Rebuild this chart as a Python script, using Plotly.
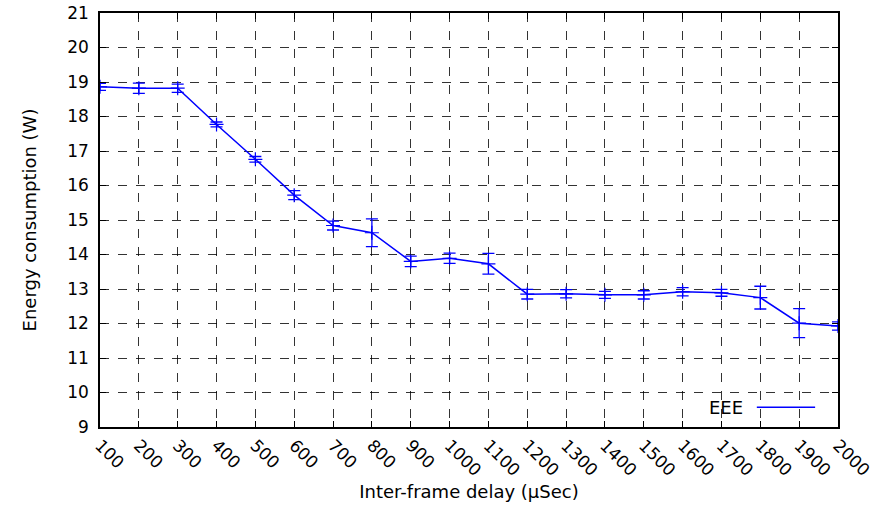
import plotly.graph_objects as go

delay = [100, 200, 300, 400, 500, 600, 700, 800, 900, 1000, 1100, 1200, 1300, 1400, 1500, 1600, 1700, 1800, 1900, 2000]
energy = [18.86, 18.82, 18.82, 17.77, 16.76, 15.72, 14.84, 14.63, 13.80, 13.89, 13.73, 12.85, 12.86, 12.83, 12.83, 12.92, 12.89, 12.75, 12.01, 11.93]
err = [0.10, 0.15, 0.12, 0.07, 0.08, 0.13, 0.13, 0.40, 0.15, 0.15, 0.30, 0.14, 0.12, 0.10, 0.12, 0.12, 0.10, 0.33, 0.42, 0.12]
xticks = list(range(100, 2001, 100))
yticks = list(range(9, 22))

FONT = "DejaVu Sans"

fig = go.Figure()
fig.add_trace(go.Scatter(
    x=delay, y=energy, mode="lines+markers", name="EEE",
    line=dict(color="#0000ff", width=1.5),
    marker=dict(symbol="cross-thin", size=10, line=dict(color="#0000ff", width=1.2)),
    error_y=dict(type="data", array=err, visible=True, color="#0000ff", thickness=1.3, width=6),
    showlegend=False,
))

axis_common = dict(
    showline=True, linecolor="black", linewidth=1.5, mirror="ticks",
    ticks="inside", ticklen=6, tickcolor="black",
    showgrid=True, gridcolor="rgba(0,0,0,0.8)", griddash="dash", gridwidth=1,
    zeroline=False, tickfont=dict(family=FONT, size=17, color="black"),
    automargin=False, ticklabeloverflow="allow",
)

fig.update_xaxes(range=[100, 2000], tickvals=xticks, ticktext=[str(v) for v in xticks],
                 tickangle=45, title=dict(text="Inter-frame delay (µSec)", font=dict(family=FONT, size=18, color="black"), standoff=6),
                 **axis_common)
fig.update_yaxes(range=[9, 21], tickvals=yticks, ticktext=[str(v) for v in yticks],
                 ticklabelstandoff=6,
                 title=dict(text="Energy consumption (W)", font=dict(family=FONT, size=18, color="black"), standoff=26),
                 **axis_common)

fig.add_annotation(x=0.874, y=0.048, xref="paper", yref="paper", text="EEE", showarrow=False,
                   xanchor="right", yanchor="middle", font=dict(family=FONT, size=18, color="black"))
fig.add_shape(type="line", xref="paper", yref="paper", x0=0.890, x1=0.969, y0=0.048, y1=0.048,
              line=dict(color="#0000ff", width=1.5))

fig.update_layout(
    width=883, height=505, margin=dict(l=100, r=45, t=13, b=78),
    plot_bgcolor="white", paper_bgcolor="white",
    font=dict(family=FONT, color="black"),
)

fig.write_html("out.html", config={"displayModeBar": False},
               post_script="document.body.style.margin='0';document.body.style.overflow='hidden';")
